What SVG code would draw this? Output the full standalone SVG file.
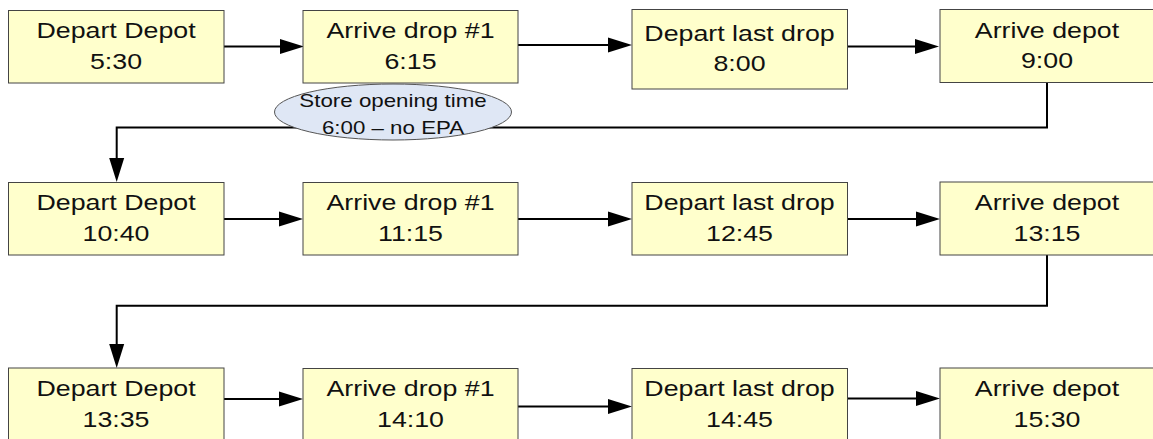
<svg xmlns="http://www.w3.org/2000/svg" width="1153" height="439" viewBox="0 0 1153 439">
  <style>
    .box { fill: #ffffcc; stroke: #444444; stroke-width: 1; }
    .note { fill: #dfe7f5; stroke: #555555; stroke-width: 1; }
    .lbl { font-family: "Liberation Sans", Arial, sans-serif; font-size: 21.5px; fill: #111111; text-anchor: middle; }
    .nlbl { font-family: "Liberation Sans", Arial, sans-serif; font-size: 18px; fill: #111111; text-anchor: middle; }
    .wire { fill: none; stroke: #000000; stroke-width: 2; }
  </style>
  <defs>
    <marker id="arrow" markerUnits="userSpaceOnUse" markerWidth="26" markerHeight="18" refX="14" refY="8" orient="auto">
      <path d="M0,0.5 L24,8 L0,15.5 Z" fill="#000000"/>
    </marker>
  </defs>

  <rect width="1153" height="439" fill="#ffffff"/>

  <!-- connectors -->
  <g id="connectors">
    <!-- row 1 -->
    <line class="wire" x1="224" y1="46.5" x2="294" y2="46.5" marker-end="url(#arrow)"/>
    <line class="wire" x1="518" y1="45" x2="622" y2="45" marker-end="url(#arrow)"/>
    <line class="wire" x1="848" y1="46.5" x2="929" y2="46.5" marker-end="url(#arrow)"/>
    <!-- wrap to row 2 -->
    <path class="wire" d="M1047,83 V127.5 H116.7 V172" marker-end="url(#arrow)"/>
    <!-- row 2 -->
    <line class="wire" x1="224" y1="219" x2="293" y2="219" marker-end="url(#arrow)"/>
    <line class="wire" x1="518" y1="219" x2="622" y2="219" marker-end="url(#arrow)"/>
    <line class="wire" x1="848" y1="219" x2="930" y2="219" marker-end="url(#arrow)"/>
    <!-- wrap to row 3 -->
    <path class="wire" d="M1047,255 V305.7 H116.7 V358" marker-end="url(#arrow)"/>
    <!-- row 3 -->
    <line class="wire" x1="224" y1="399" x2="293" y2="399" marker-end="url(#arrow)"/>
    <line class="wire" x1="518" y1="406.5" x2="622" y2="406.5" marker-end="url(#arrow)"/>
    <line class="wire" x1="848" y1="398.5" x2="930" y2="398.5" marker-end="url(#arrow)"/>
  </g>

  <!-- row 1 -->
  <g id="r1-depart-depot">
    <rect class="box" x="8.5" y="10.5" width="215.5" height="72.5"/>
    <text class="lbl" transform="translate(116,0) scale(1.245,1)"><tspan x="0" y="38">Depart Depot</tspan><tspan x="0" y="69.5">5:30</tspan></text>
  </g>
  <g id="r1-arrive-drop">
    <rect class="box" x="303" y="10.5" width="215" height="72.5"/>
    <text class="lbl" transform="translate(410.5,0) scale(1.245,1)"><tspan x="0" y="38">Arrive drop #1</tspan><tspan x="0" y="69.5">6:15</tspan></text>
  </g>
  <g id="r1-depart-last">
    <rect class="box" x="632" y="9.5" width="215.5" height="79.5"/>
    <text class="lbl" transform="translate(739.5,0) scale(1.245,1)"><tspan x="0" y="41.5">Depart last drop</tspan><tspan x="0" y="71.5">8:00</tspan></text>
  </g>
  <g id="r1-arrive-depot">
    <rect class="box" x="940" y="9.5" width="215" height="73"/>
    <text class="lbl" transform="translate(1047,0) scale(1.245,1)"><tspan x="0" y="38.5">Arrive depot</tspan><tspan x="0" y="68.5">9:00</tspan></text>
  </g>

  <!-- note on the first wrap connector -->
  <g id="note-store-opening">
    <ellipse class="note" cx="393" cy="112" rx="118.5" ry="28"/>
    <text class="nlbl" transform="translate(393,0) scale(1.24,1)"><tspan x="0" y="107">Store opening time</tspan><tspan x="0" y="134">6:00 – no EPA</tspan></text>
  </g>

  <!-- row 2 -->
  <g id="r2-depart-depot">
    <rect class="box" x="8.5" y="182.5" width="215.5" height="72.5"/>
    <text class="lbl" transform="translate(116,0) scale(1.245,1)"><tspan x="0" y="210.5">Depart Depot</tspan><tspan x="0" y="241">10:40</tspan></text>
  </g>
  <g id="r2-arrive-drop">
    <rect class="box" x="303" y="182.5" width="215" height="72.5"/>
    <text class="lbl" transform="translate(410.5,0) scale(1.245,1)"><tspan x="0" y="210.5">Arrive drop #1</tspan><tspan x="0" y="241">11:15</tspan></text>
  </g>
  <g id="r2-depart-last">
    <rect class="box" x="632" y="182.5" width="215.5" height="72.5"/>
    <text class="lbl" transform="translate(739.5,0) scale(1.245,1)"><tspan x="0" y="210.5">Depart last drop</tspan><tspan x="0" y="241">12:45</tspan></text>
  </g>
  <g id="r2-arrive-depot">
    <rect class="box" x="940" y="182" width="215" height="73"/>
    <text class="lbl" transform="translate(1047,0) scale(1.245,1)"><tspan x="0" y="210.5">Arrive depot</tspan><tspan x="0" y="241">13:15</tspan></text>
  </g>

  <!-- row 3 -->
  <g id="r3-depart-depot">
    <rect class="box" x="8.5" y="368" width="215.5" height="75"/>
    <text class="lbl" transform="translate(116,0) scale(1.245,1)"><tspan x="0" y="396">Depart Depot</tspan><tspan x="0" y="427">13:35</tspan></text>
  </g>
  <g id="r3-arrive-drop">
    <rect class="box" x="303" y="368.5" width="215" height="75"/>
    <text class="lbl" transform="translate(410.5,0) scale(1.245,1)"><tspan x="0" y="396">Arrive drop #1</tspan><tspan x="0" y="427">14:10</tspan></text>
  </g>
  <g id="r3-depart-last">
    <rect class="box" x="632" y="368.5" width="215.5" height="80"/>
    <text class="lbl" transform="translate(739.5,0) scale(1.245,1)"><tspan x="0" y="396">Depart last drop</tspan><tspan x="0" y="427">14:45</tspan></text>
  </g>
  <g id="r3-arrive-depot">
    <rect class="box" x="940" y="368" width="215" height="75"/>
    <text class="lbl" transform="translate(1047,0) scale(1.245,1)"><tspan x="0" y="396">Arrive depot</tspan><tspan x="0" y="427">15:30</tspan></text>
  </g>
</svg>
